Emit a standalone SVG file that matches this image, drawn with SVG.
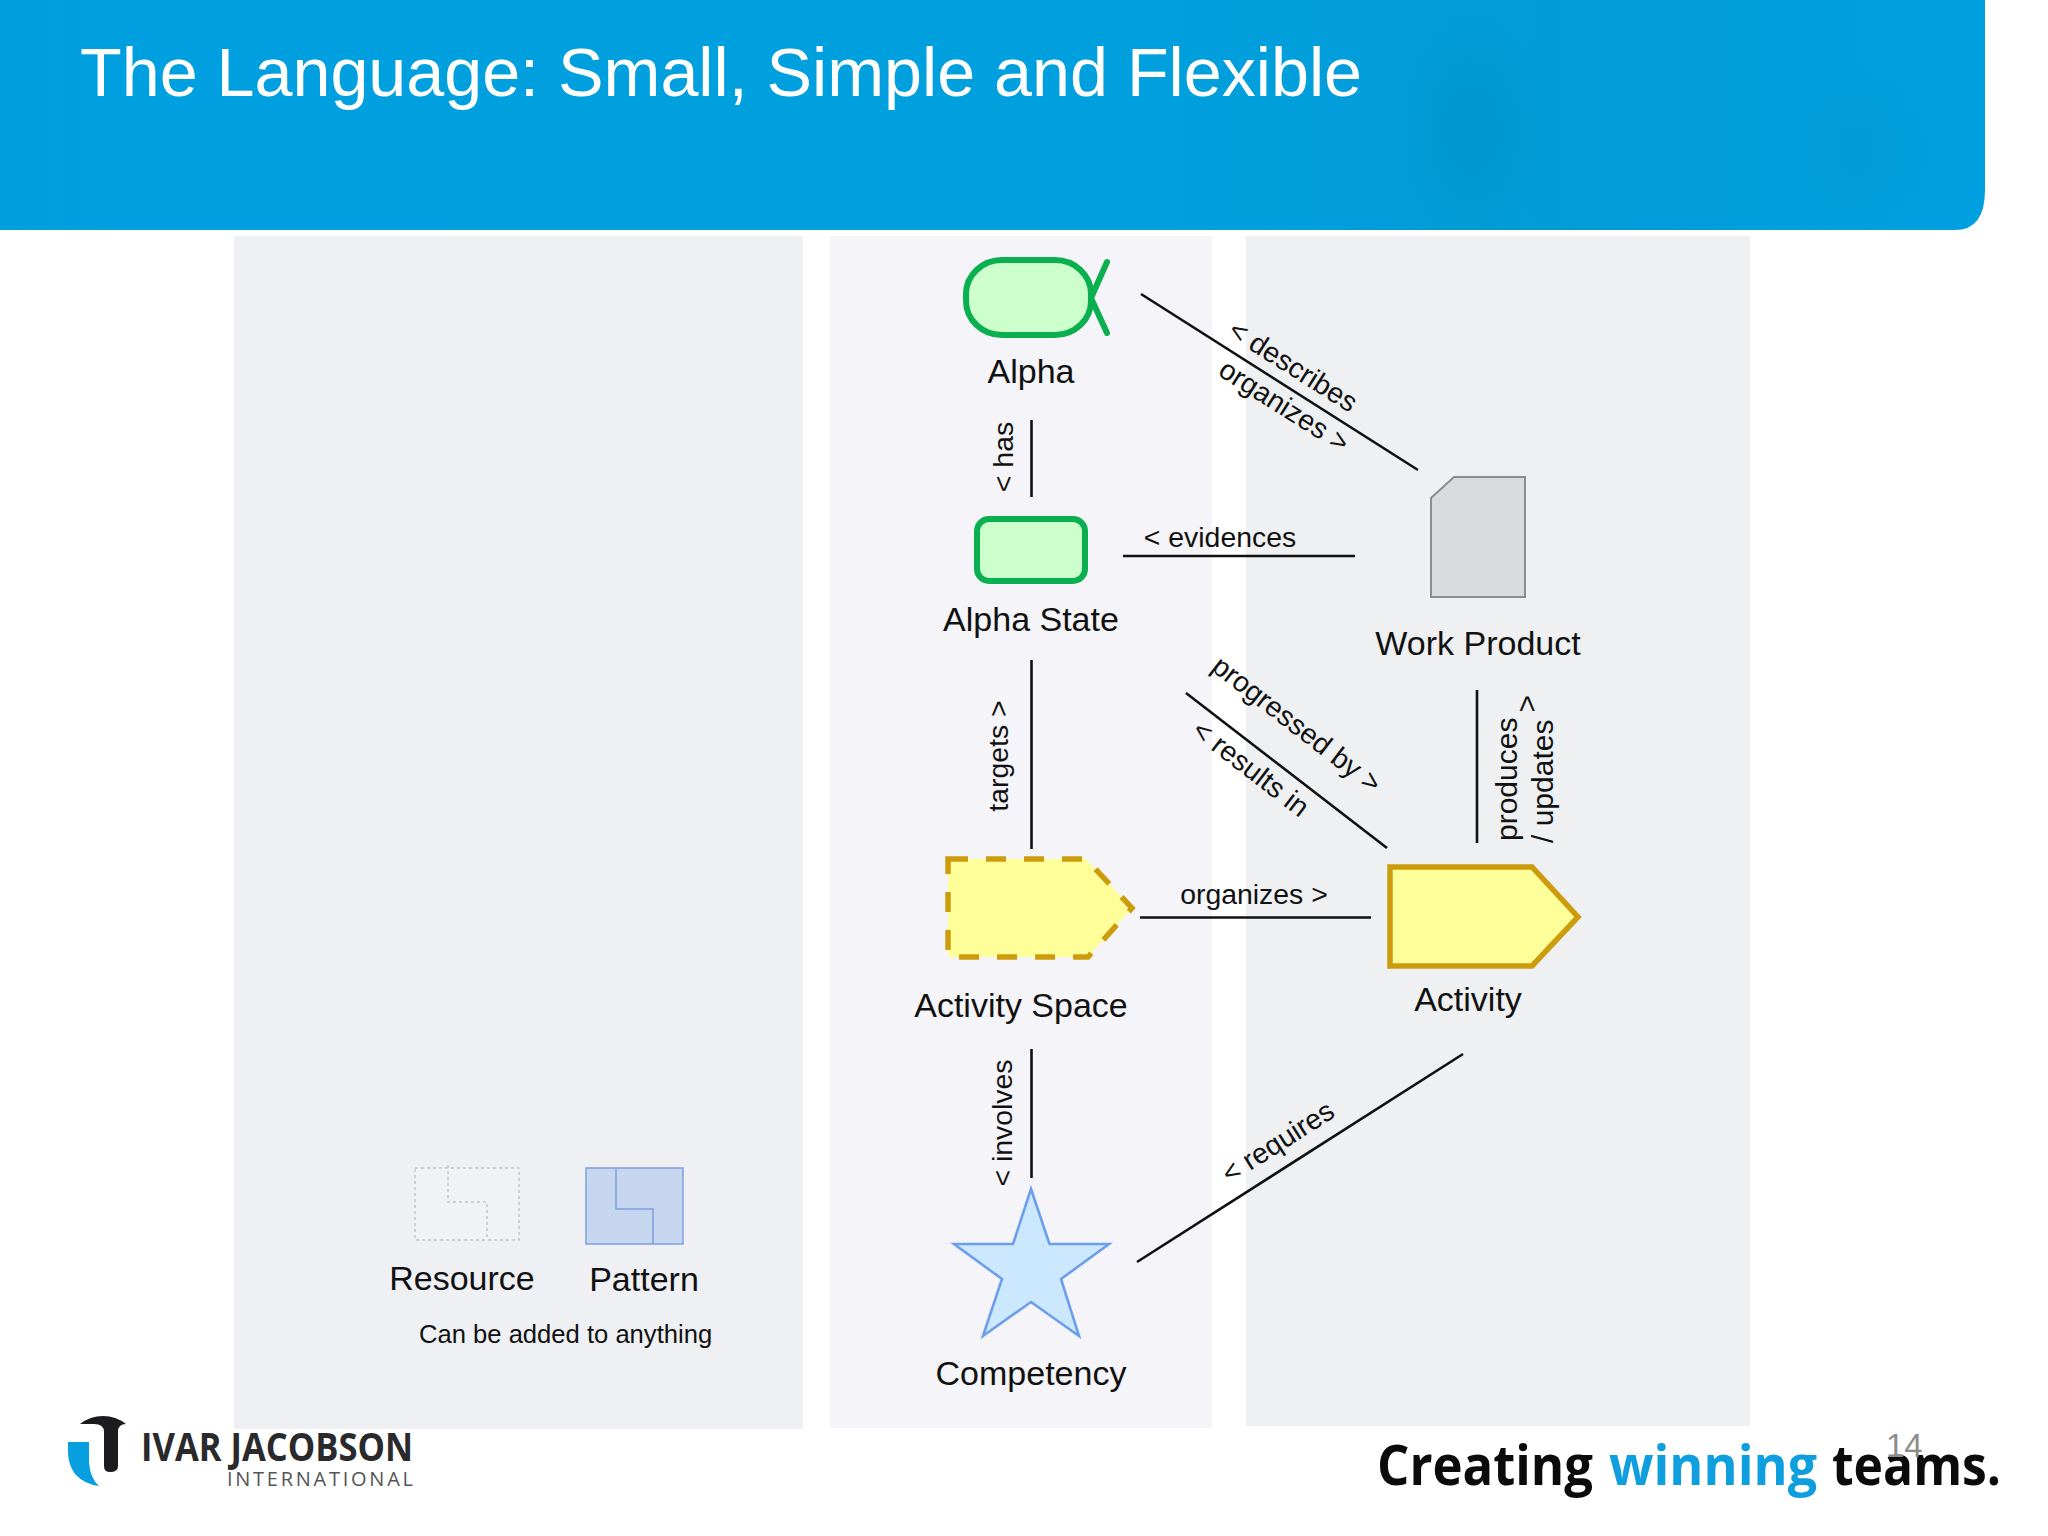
<svg xmlns="http://www.w3.org/2000/svg" width="2048" height="1536" viewBox="0 0 2048 1536">
<style>
text{font-family:"Liberation Sans",Arial,sans-serif;fill:#111}
.n{font-size:34px;text-anchor:middle}
.e{font-size:28.4px;text-anchor:middle}
.c{stroke:#111;stroke-width:2.6;fill:none}
.al{fill:#ccffcc;stroke:#0ab050;stroke-width:6}
.ac{fill:#ffff99;stroke:#cc9c0c;stroke-width:5.5}
</style>
<defs>
<linearGradient id="hb" x1="0" x2="1" y1="0" y2="0">
<stop offset="0" stop-color="#009edd"/><stop offset=".1" stop-color="#00a0e0"/><stop offset=".3" stop-color="#00a0df"/><stop offset=".55" stop-color="#00a0de"/><stop offset=".78" stop-color="#019cd8"/><stop offset="1" stop-color="#00a0e0"/>
</linearGradient>
<radialGradient id="bl"><stop offset="0" stop-color="#0088bd" stop-opacity=".35"/><stop offset="1" stop-color="#0088bd" stop-opacity="0"/></radialGradient>
<clipPath id="hc"><path d="M0 0H1985V190Q1985 230 1955 230H0Z"/></clipPath>
</defs>
<rect width="2048" height="1536" fill="#fff"/>
<g id="header">
<path d="M0 0H1985V190Q1985 230 1955 230H0Z" fill="url(#hb)"/>
<g clip-path="url(#hc)">
<ellipse cx="1470" cy="130" rx="80" ry="130" fill="url(#bl)"/>
<ellipse cx="1860" cy="150" rx="70" ry="85" fill="url(#bl)" opacity=".6"/>
</g>
<text x="80" y="96" font-size="68" style="fill:#fff" textLength="1282" lengthAdjust="spacingAndGlyphs">The Language: Small, Simple and Flexible</text>
</g>
<g id="panels">
<rect x="234" y="236" width="569" height="1193" fill="#eff0f3"/>
<rect x="830" y="236" width="382" height="1192" fill="#f5f4f8"/>
<rect x="1246" y="236" width="504" height="1190" fill="#eff0f2"/>
</g>
<g id="connectors">
<line class="c" x1="1141" y1="294" x2="1418" y2="470"/>
<line class="c" x1="1031.5" y1="420" x2="1031.5" y2="497"/>
<line class="c" x1="1123" y1="556" x2="1355" y2="556"/>
<line class="c" x1="1031.5" y1="660" x2="1031.5" y2="849"/>
<line class="c" x1="1186" y1="693" x2="1387" y2="848"/>
<line class="c" x1="1477" y1="690" x2="1477" y2="843"/>
<line class="c" x1="1140" y1="917.5" x2="1371" y2="917.5"/>
<line class="c" x1="1031.5" y1="1049" x2="1031.5" y2="1178"/>
<line class="c" x1="1137" y1="1262" x2="1463" y2="1054"/>
<text class="e" transform="translate(1288 374) rotate(32.4)">&lt; describes</text>
<text class="e" transform="translate(1279 414) rotate(32.4)">organizes &gt;</text>
<text class="e" transform="translate(1013 457) rotate(-90)">&lt; has</text>
<text class="e" x="1220" y="547">&lt; evidences</text>
<text class="e" transform="translate(1008 756) rotate(-90)">targets &gt;</text>
<text class="e" transform="translate(1291 732) rotate(37.6)">progressed by &gt;</text>
<text class="e" transform="translate(1245 776) rotate(37.6)">&lt; results in</text>
<text class="e" style="text-anchor:start;font-size:30px" transform="translate(1517 841) rotate(-90)">produces<tspan dx="5" dy="20">&gt;</tspan></text>
<text class="e" style="text-anchor:start;font-size:30px" transform="translate(1553 843) rotate(-90)">/ updates</text>
<text class="e" x="1254" y="904">organizes &gt;</text>
<text class="e" transform="translate(1012 1123) rotate(-90)">&lt; involves</text>
<text class="e" transform="translate(1283 1150) rotate(-32.5)">&lt; requires</text>
</g>
<g id="alpha">
<rect class="al" x="966" y="260" width="125" height="75" rx="36" ry="34"/>
<path d="M1107 262L1091 298L1107 333" fill="none" stroke="#0ab050" stroke-width="6" stroke-linecap="round"/>
<text class="n" x="1031" y="383">Alpha</text>
</g>
<g id="alpha-state">
<rect class="al" x="977" y="519" width="108" height="62" rx="12"/>
<text class="n" x="1031" y="631">Alpha State</text>
</g>
<g id="work-product">
<path d="M1431 498L1454 477H1525V597H1431Z" fill="#d9dadc" stroke="#8c8c8c" stroke-width="2"/>
<text class="n" x="1478" y="655">Work Product</text>
</g>
<g id="activity-space">
<path class="ac" d="M948 859H1086L1132 908L1088 957H948Z" stroke-dasharray="20 18"/>
<text class="n" x="1021" y="1017">Activity Space</text>
</g>
<g id="activity">
<path class="ac" d="M1390 867H1532L1578 917L1532 966H1390Z"/>
<text class="n" x="1468" y="1011">Activity</text>
</g>
<g id="competency">
<path d="M1031 1189L1049.5 1244H1109L1061 1279L1079 1336L1031 1302L983 1336L1002 1279L954 1244H1013Z" fill="#cce8ff" stroke="#6d9eeb" stroke-width="2.6"/>
<text class="n" x="1031" y="1385">Competency</text>
</g>
<g id="resource">
<rect x="415" y="1168" width="104" height="72" fill="#f1f2f4" stroke="#c4c4c4" stroke-width="1.5" stroke-dasharray="3 3"/>
<path d="M448 1165V1202H487V1240" fill="none" stroke="#c4c4c4" stroke-width="1.5" stroke-dasharray="3 3"/>
<text class="n" x="462" y="1290">Resource</text>
</g>
<g id="pattern">
<rect x="586" y="1168" width="97" height="76" fill="#c5d6ee" stroke="#7f9fe0" stroke-width="1.5"/>
<path d="M616 1168V1209H653V1244" fill="none" stroke="#7f9fe0" stroke-width="1.5"/>
<text class="n" x="644" y="1291">Pattern</text>
</g>
<text x="419" y="1343" font-size="25.6">Can be added to anything</text>
<g id="logo">
<path d="M80 1424Q90 1416 103 1416Q116 1416 126 1424Q118 1424 118 1432V1466Q118 1472 110 1472Q104 1472 104 1466V1432Q104 1424 94 1424Z" fill="#1c1c1e"/>
<path d="M68 1442H89V1462Q90 1478 99 1486Q84 1484 75 1474Q68 1464 68 1452Z" fill="#089fe0"/>
<text x="141" y="1461" font-size="39" font-weight="700" textLength="272" lengthAdjust="spacingAndGlyphs" style="font-family:'Open Sans','Liberation Sans',sans-serif;fill:#2a2a2c">IVAR JACOBSON</text>
<text x="227" y="1486" font-size="20" textLength="186" style="font-family:'Open Sans','Liberation Sans',sans-serif;fill:#555">INTERNATIONAL</text>
</g>
<g id="tagline">
<text x="1377" y="1485" font-size="56" font-weight="700" textLength="216" lengthAdjust="spacingAndGlyphs" style="font-family:'Open Sans','Noto Sans',sans-serif;fill:#0b0b0b">Creating</text>
<text x="1609" y="1485" font-size="56" font-weight="700" textLength="208" lengthAdjust="spacingAndGlyphs" style="font-family:'Open Sans','Noto Sans',sans-serif;fill:#0f9fdf">winning</text>
<text x="1832" y="1485" font-size="56" font-weight="700" textLength="169" lengthAdjust="spacingAndGlyphs" style="font-family:'Open Sans','Noto Sans',sans-serif;fill:#0b0b0b">teams.</text>
<text x="1886" y="1457" font-size="33" style="fill:#8c8c8c">14</text>
</g>
</svg>
